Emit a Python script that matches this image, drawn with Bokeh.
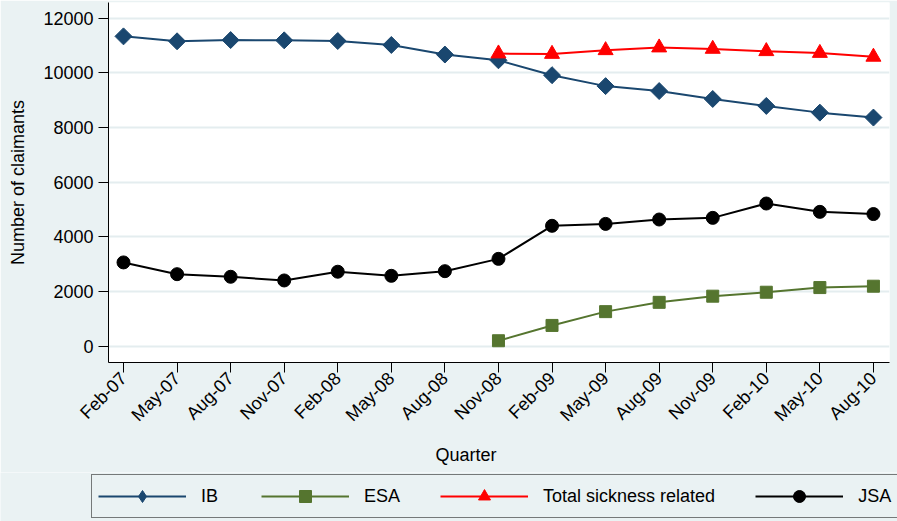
import math
from bokeh.plotting import figure
from bokeh.layouts import column
from bokeh.models import Range1d, FixedTicker, Legend, LegendItem, Title
from bokeh.embed import file_html
from bokeh.resources import INLINE

# ---- data ----
quarters = ["Feb-07", "May-07", "Aug-07", "Nov-07", "Feb-08", "May-08", "Aug-08",
            "Nov-08", "Feb-09", "May-09", "Aug-09", "Nov-09", "Feb-10", "May-10", "Aug-10"]
ib = [11335, 11155, 11200, 11190, 11165, 11020, 10670, 10460,
      9915, 9515, 9335, 9045, 8790, 8545, 8365]
jsa = [3065, 2635, 2540, 2405, 2725, 2575, 2745, 3195,
       4405, 4475, 4635, 4695, 5220, 4915, 4835]
esa_start = "Nov-08"
esa = [200, 760, 1265, 1605, 1830, 1975, 2145, 2195]
total_sick = [10705, 10690, 10825, 10925, 10875, 10790, 10725, 10585]
y_ticks = [0, 2000, 4000, 6000, 8000, 10000, 12000]
series_names = ["IB", "ESA", "Total sickness related", "JSA"]

x_all = list(range(len(quarters)))
x_new = x_all[quarters.index(esa_start):]

BG = "#EAF2F3"
GRID = "#E4EDEF"
NAVY = "#1A476F"
GREEN = "#55752F"
RED = "#FF0000"
BLACK = "#000000"
FONT = "Liberation Sans"
FS = "18px"


def draw_series(fig, ib_marker="square", ib_angle=math.pi / 4):
    rs = []
    rs.append([fig.line(x_all, ib, line_color=NAVY, line_width=2),
               fig.scatter(x_all, ib, marker=ib_marker, size=12, angle=ib_angle,
                           fill_color=NAVY, line_color=NAVY)])
    rs.append([fig.line(x_new, esa, line_color=GREEN, line_width=2),
               fig.scatter(x_new, esa, marker="square", size=12,
                           fill_color=GREEN, line_color=GREEN)])
    rs.append([fig.line(x_new, total_sick, line_color=RED, line_width=2),
               fig.scatter(x_new, total_sick, marker="triangle", size=15,
                           fill_color=RED, line_color=RED)])
    rs.append([fig.line(x_all, jsa, line_color=BLACK, line_width=2),
               fig.scatter(x_all, jsa, marker="circle", size=13,
                           fill_color=BLACK, line_color=BLACK)])
    return rs


# ---------------- main plot ----------------
p = figure(width=897, height=472, output_backend="svg", toolbar_location=None,
           x_range=Range1d(-0.28, 14.3), y_range=Range1d(-596, 12574),
           min_border_left=108, min_border_right=8, min_border_top=2,
           min_border_bottom=110,
           background_fill_color="white", border_fill_color=BG,
           outline_line_color=None)
p.frame_align = False
draw_series(p)

for ax in (p.xaxis[0], p.yaxis[0]):
    ax.axis_line_color = "black"
    ax.axis_line_width = 1
    ax.major_tick_line_color = "black"
    ax.major_tick_out = 10
    ax.major_tick_in = 0
    ax.minor_tick_line_color = None
    ax.major_label_text_font = FONT
    ax.major_label_text_font_size = FS
    ax.major_label_text_color = "black"
    ax.axis_label_text_font = FONT
    ax.axis_label_text_font_size = FS
    ax.axis_label_text_font_style = "normal"
    ax.axis_label_text_color = "black"

p.xaxis.ticker = FixedTicker(ticks=x_all)
p.xaxis.major_label_overrides = {i: q for i, q in zip(x_all, quarters)}
p.xaxis.major_label_orientation = math.pi / 4
p.xaxis.major_label_standoff = 3

p.add_layout(Title(text="Quarter", align="left", offset=327, standoff=14,
                   text_font=FONT, text_font_size=FS, text_font_style="normal",
                   text_color="black"), "below")

p.yaxis.ticker = FixedTicker(ticks=y_ticks)
p.yaxis.axis_label = "Number of claimants"
p.yaxis.axis_label_standoff = 12
p.yaxis.major_label_standoff = 5

p.xgrid.grid_line_color = None
p.ygrid.grid_line_color = GRID
p.ygrid.grid_line_width = 2

# ---------------- legend strip ----------------
lg = figure(width=897, height=49, output_backend="svg", toolbar_location=None,
            x_range=Range1d(1000, 1001), y_range=Range1d(1000, 1001),
            x_axis_type=None, y_axis_type=None,
            min_border_left=0, min_border_right=0, min_border_top=0,
            min_border_bottom=0,
            background_fill_color=BG, border_fill_color=BG,
            outline_line_color=None)
lg.frame_align = False
lg.grid.visible = False
legend_rs = draw_series(lg, ib_marker="diamond", ib_angle=0)

legend = Legend(items=[LegendItem(label=n, renderers=r)
                       for n, r in zip(series_names, legend_rs)],
                orientation="horizontal", location=(91, 3),
                glyph_width=88, glyph_height=30, label_height=30,
                label_standoff=15, spacing=40, padding=6, margin=0,
                label_text_font=FONT, label_text_font_size=FS,
                label_text_color="black",
                border_line_color="black", border_line_width=1,
                background_fill_color=BG, background_fill_alpha=1.0)
lg.add_layout(legend, "center")

layout = column(p, lg, spacing=0)
open("out.html", "w").write(file_html(layout, INLINE))
